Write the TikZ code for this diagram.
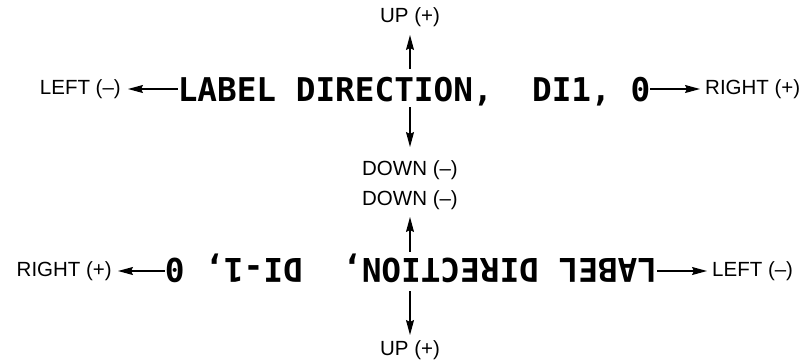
\documentclass[tikz,border=0pt]{standalone}
\usepackage{fontspec}
\setmainfont{Liberation Sans}
\newfontfamily\monofont{DejaVu Sans Mono}
\usetikzlibrary{arrows.meta}
\begin{document}
\begin{tikzpicture}[x=1pt,y=-1pt,
  lab/.style={font=\fontsize{20.5}{21}\selectfont, inner sep=0pt},
  big/.style={font=\fontsize{32.7}{34}\monofont\bfseries, inner sep=0pt},
  arr/.style={line width=1.1pt, -{Stealth[length=15pt,width=8pt,inset=2pt]}}]
\useasboundingbox (0,0) rectangle (805,360);
% line 1
\node[big, anchor=base] (t1) at (414,101) {LABEL DIRECTION,\ \ DI1, 0};
\node[lab, anchor=east] (left1) at (121,89) {LEFT (–)};
\node[lab, anchor=west] (right1) at (705,89) {RIGHT (+)};
\node[lab, anchor=south] (up1) at (410,27) {UP (+)};
\node[lab, anchor=north] (down1) at (410,160) {DOWN (–)};
\draw[arr, shorten >=7pt] (t1.west |- left1.east) -- (left1.east);
\draw[arr, shorten >=5pt] (t1.east |- right1.west) -- (right1.west);
\draw[arr, shorten <=8pt, shorten >=8pt] (t1.north -| up1.south) -- (up1.south);
\draw[arr, shorten <=1.5pt, shorten >=13pt] (t1.south -| down1.north) -- (down1.north);
% line 2 (rotated 180 degrees)
\node[big, anchor=base, rotate=180] (t2) at (411,258) {LABEL DIRECTION,\ \ DI-1, 0};
\node[lab, anchor=east] (right2) at (112,271) {RIGHT (+)};
\node[lab, anchor=west] (left2) at (712,271) {LEFT (–)};
\node[lab, anchor=south] (down2) at (410,210) {DOWN (–)};
\node[lab, anchor=north] (up2) at (410,340) {UP (+)};
\draw[arr, shorten >=6pt] (t2.east |- right2.east) -- (right2.east);
\draw[arr, shorten >=5pt] (t2.west |- left2.west) -- (left2.west);
\draw[arr, shorten <=1.5pt, shorten >=7pt] (t2.south -| down2.south) -- (down2.south);
\draw[arr, shorten <=9pt, shorten >=5pt] (t2.north -| up2.north) -- (up2.north);
\end{tikzpicture}
\end{document}
